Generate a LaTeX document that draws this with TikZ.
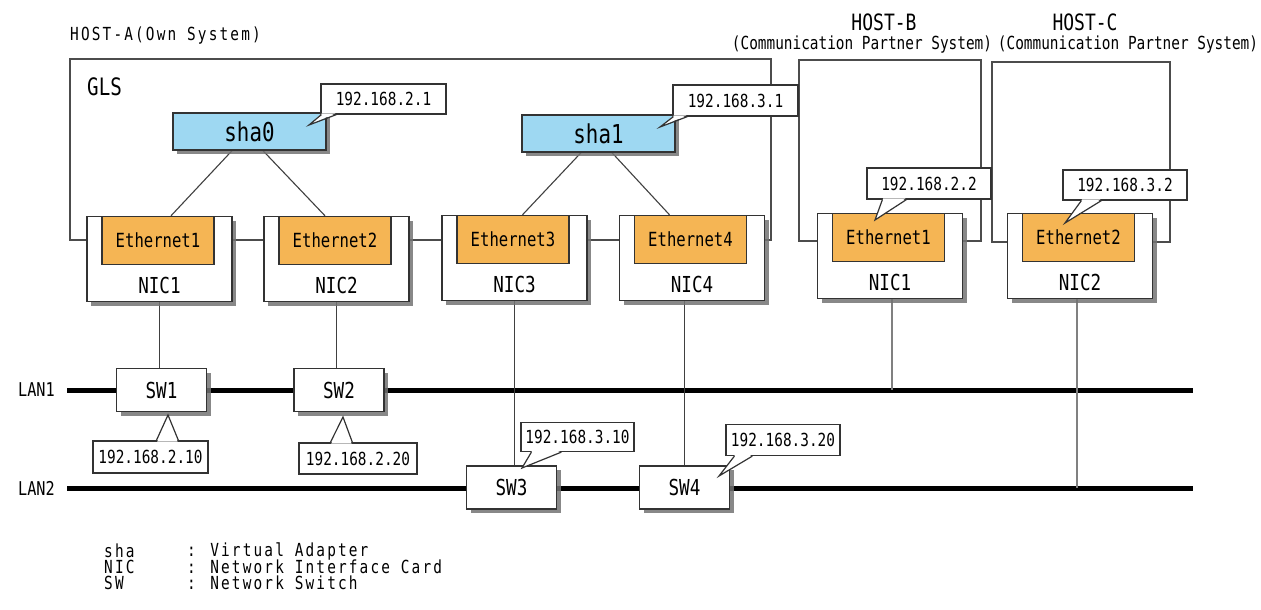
\documentclass[tikz,border=0pt]{standalone}
\usepackage{fontspec}
\setmainfont{DejaVu Sans Mono}[FakeStretch=0.8]
\newfontfamily\spacedfont{DejaVu Sans Mono}[FakeStretch=0.8,LetterSpace=12]
\usetikzlibrary{shadows,calc,backgrounds}
\definecolor{shablue}{RGB}{158,216,242}
\definecolor{ethorange}{RGB}{245,181,84}
\definecolor{edgecol}{RGB}{51,51,51}
\newcommand\myfs[1]{\fontsize{#1}{#1}\selectfont}
% tail on bottom edge: #1 node, #2 #3 offsets from left, #4 tip
\newcommand\tailbot[4]{%
  \fill[white] ($(#1.south west)+(#2+0.8,-1.3)$) -- (#4) -- ($(#1.south west)+(#3-0.8,-1.3)$) -- cycle;
  \draw[tail] ($(#1.south west)+(#2,0)$) -- (#4) -- ($(#1.south west)+(#3,0)$);}
\newcommand\tailtop[4]{%
  \fill[white] ($(#1.north west)+(#2+0.8,1.3)$) -- (#4) -- ($(#1.north west)+(#3-0.8,1.3)$) -- cycle;
  \draw[tail] ($(#1.north west)+(#2,0)$) -- (#4) -- ($(#1.north west)+(#3,0)$);}
\begin{document}
\begin{tikzpicture}[x=1pt,y=-1pt,
  shadowed/.style={drop shadow={shadow xshift=4pt,shadow yshift=-4pt,fill=black!55,opacity=0.85}},
  box/.style={draw=edgecol,line width=1.4pt,fill=white,inner sep=0pt,rectangle},
  nicbox/.style={box,shadowed,minimum width=145pt,minimum height=85pt},
  ethbox/.style={draw=edgecol,line width=1.4pt,fill=ethorange,minimum width=112pt,minimum height=48pt,inner sep=0pt,font=\myfs{19.5}},
  shabox/.style={box,fill=shablue,shadowed,minimum width=153pt,minimum height=37pt,font=\myfs{26}},
  swbox/.style={box,shadowed,minimum width=90pt,minimum height=43pt,font=\myfs{22}},
  callout/.style={box,line width=1.2pt,font=\myfs{18}},
  frame/.style={draw=black!70,line width=1.3pt,inner sep=0pt,rectangle},
  wire/.style={draw=black!75,line width=1.1pt},
  graywire/.style={draw=black!50,line width=1.6pt},
  lan/.style={draw=black,line width=5pt},
  tail/.style={draw=edgecol,line width=1.2pt},
  lbl/.style={inner sep=0pt},
  keytext/.style={lbl,anchor=west,font=\spacedfont\myfs{18}}
]
\useasboundingbox (0,0) rectangle (1261,610);

% host frames
\node[frame,minimum width=701pt,minimum height=181pt] (hostA) at (420.5,149.5) {};
\node[frame,minimum width=182pt,minimum height=181pt] (hostB) at (890,150.5) {};
\node[frame,minimum width=178pt,minimum height=180pt] (hostC) at (1081,152) {};

% titles
\node[keytext] (tA) at (70,36) {HOST-A(Own System)};
\node[lbl,font=\myfs{22.5}] (tB) at (884,22) {HOST-B};
\node[lbl,font=\myfs{18}] (pB) at (862,45) {(Communication Partner System)};
\node[lbl,font=\myfs{22.5}] (tC) at (1085,22) {HOST-C};
\node[lbl,font=\myfs{18}] (pC) at (1128,45) {(Communication Partner System)};
\node[lbl,anchor=west,font=\myfs{24}] (gls) at (87,87) {GLS};

% NICs
\node[nicbox] (nic1) at (159.5,259) {};
\node[nicbox] (nic2) at (336.5,259) {};
\node[nicbox] (nic3) at (514.5,258) {};
\node[nicbox] (nic4) at (692,258) {};
\node[nicbox] (nicb) at (890,256) {};
\node[nicbox] (nicc) at (1080,256) {};

\node[ethbox,anchor=north] (eth1) at ($(nic1.north)+(-1.5,0)$) {Ethernet1};
\node[ethbox,anchor=north] (eth2) at ($(nic2.north)+(-1.5,0)$) {Ethernet2};
\node[ethbox,anchor=north] (eth3) at ($(nic3.north)+(-1.5,0)$) {Ethernet3};
\node[ethbox,anchor=north] (eth4) at ($(nic4.north)+(-1.5,0)$) {Ethernet4};
\node[ethbox,anchor=north] (ethb) at ($(nicb.north)+(-1.5,0)$) {Ethernet1};
\node[ethbox,anchor=north] (ethc) at ($(nicc.north)+(-1.5,0)$) {Ethernet2};

\node[lbl,font=\myfs{22}] (n1) at ($(nic1.south)+(0,-17)$) {NIC1};
\node[lbl,font=\myfs{22}] (n2) at ($(nic2.south)+(0,-17)$) {NIC2};
\node[lbl,font=\myfs{22}] (n3) at ($(nic3.south)+(0,-17)$) {NIC3};
\node[lbl,font=\myfs{22}] (n4) at ($(nic4.south)+(0,-17)$) {NIC4};
\node[lbl,font=\myfs{22}] (nb) at ($(nicb.south)+(0,-17)$) {NIC1};
\node[lbl,font=\myfs{22}] (nc) at ($(nicc.south)+(0,-17)$) {NIC2};

% virtual adapters
\node[shabox] (sha0) at (249.5,131.5) {sha0};
\node[shabox] (sha1) at (598.5,133.5) {sha1};

% switches
\node[swbox] (sw1) at (161.5,390) {SW1};
\node[swbox] (sw2) at (339,390) {SW2};
\node[swbox] (sw3) at (511.5,487.5) {SW3};
\node[swbox] (sw4) at (684.5,487.5) {SW4};

% LAN labels
\node[lbl,anchor=east,font=\myfs{19}] (lan1) at (55,390) {LAN1};
\node[lbl,anchor=east,font=\myfs{19}] (lan2) at (55,488) {LAN2};
\coordinate (lan1w) at (67,390); \coordinate (lan1e) at (1193,390);
\coordinate (lan2w) at (67,488); \coordinate (lan2e) at (1193,488);

% callouts
\node[callout,minimum width=125pt,minimum height=30pt] (c21) at (383.5,99) {192.168.2.1};
\node[callout,minimum width=125pt,minimum height=31pt] (c31) at (735.5,100.5) {192.168.3.1};
\node[callout,minimum width=124pt,minimum height=31pt] (c22) at (929,183.5) {192.168.2.2};
\node[callout,minimum width=124pt,minimum height=30pt] (c32) at (1125,185) {192.168.3.2};
\node[callout,minimum width=115pt,minimum height=32pt] (c210) at (150.5,457) {192.168.2.10};
\node[callout,minimum width=118pt,minimum height=31pt] (c220) at (358,458.5) {192.168.2.20};
\node[callout,minimum width=113pt,minimum height=29pt] (c310) at (577.5,437) {192.168.3.10};
\node[callout,minimum width=114pt,minimum height=31pt] (c320) at (783,440) {192.168.3.20};

\coordinate (t21) at (309,125);
\coordinate (t31) at (660,127);
\coordinate (t22) at (875,220);
\coordinate (t32) at (1065,223);
\coordinate (t210) at (168,415);
\coordinate (t220) at (343,417);
\coordinate (t310) at (522,468);
\coordinate (t320) at (719,476);

\tailbot{c21}{1}{16}{t21}
\tailbot{c31}{1}{15}{t31}
\tailbot{c22}{16}{40}{t22}
\tailbot{c32}{19}{39}{t32}
\tailtop{c210}{64}{86}{t210}
\tailtop{c220}{32}{54}{t220}
\tailbot{c310}{11}{41}{t310}
\tailbot{c320}{9}{27}{t320}

% legend
\node[keytext] (k1) at (104,551) {sha};
\node[keytext] (k2) at (104,567) {NIC};
\node[keytext] (k3) at (104,583) {SW};
\node[keytext] (v1) at (187,551) {: Virtual Adapter};
\node[keytext] (v2) at (187,567) {: Network Interface Card};
\node[keytext] (v3) at (187,583) {: Network Switch};

% connectors behind
\begin{pgfonlayer}{background}
\draw[wire] ($(sha0.south)+(-17.5,0)$) -- ($(eth1.north)+(13,0)$);
\draw[wire] ($(sha0.south)+(13.5,0)$) -- ($(eth2.north)+(-10,0)$);
\draw[wire] ($(sha1.south)+(-17.5,0)$) -- ($(eth3.north)+(9.5,0)$);
\draw[wire] ($(sha1.south)+(13.5,0)$) -- ($(eth4.north)+(-21,0)$);
\draw[lan] (lan1w) -- (lan1e);
\draw[lan] (lan2w) -- (lan2e);
\draw[wire] (nic1.south) -- (nic1.south |- sw1.north);
\draw[wire] (nic2.south) -- (nic2.south |- sw2.north);
\draw[wire] (nic3.south) -- (nic3.south |- sw3.north);
\draw[wire] (sw4.north) -- (sw4.north |- nic4.south);
\coordinate (bt) at ($(nicb.south)+(2,0)$);
\coordinate (ct) at ($(nicc.south)+(-3,0)$);
\draw[graywire] (bt) -- (bt |- lan1w);
\draw[graywire] (ct) -- (ct |- lan2w);
\end{pgfonlayer}
\end{tikzpicture}
\end{document}
